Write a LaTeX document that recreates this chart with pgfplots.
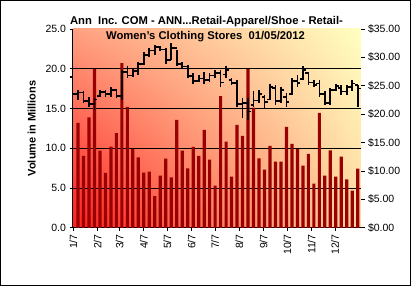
\documentclass[border=0pt]{standalone}
\usepackage{fontspec}
\setmainfont{Liberation Sans}
\usepackage{pgfplots}
\pgfplotsset{compat=1.18}
\usepackage{pgfplotstable}
\usetikzlibrary{shadings}
\definecolor{volred}{RGB}{153,0,0}
\definecolor{bgLL}{RGB}{255,30,30}
\definecolor{bgUL}{RGB}{255,160,128}
\definecolor{bgUR}{RGB}{255,255,192}
\definecolor{bgLR}{RGB}{255,215,160}
\pgfdeclareplotmark{closetick}{\pgfpathmoveto{\pgfpoint{0pt}{0pt}}\pgfpathlineto{\pgfpoint{3pt}{0pt}}\pgfusepathqstroke}
\pgfdeclareplotmark{opentick}{\pgfpathmoveto{\pgfpoint{-3pt}{0pt}}\pgfpathlineto{\pgfpoint{0pt}{0pt}}\pgfusepathqstroke}

\pgfplotstableread{
i V
1 13.2
2 9.06
3 13.9
4 20.0
5 9.7
6 6.9
7 10.2
8 11.9
9 20.7
10 15.2
11 9.9
12 8.85
13 6.94
14 7.06
15 3.98
16 6.56
17 8.69
18 6.35
19 13.56
20 9.69
21 7.48
22 10.19
23 9.06
24 12.31
25 8.56
26 5.31
27 16.56
28 10.85
29 6.44
30 12.94
31 11.56
32 20.0
33 15.1
34 8.73
35 7.31
36 10.31
37 8.31
38 8.31
39 12.69
40 10.56
41 9.9
42 7.81
43 9.31
44 5.56
45 14.44
46 6.56
47 9.73
48 6.44
49 8.94
50 6.1
51 4.69
52 7.44
}\voltable

\pgfplotstableread{
i H L O C
0 26.9 22.8 26.5 23.5
1 24.3 22.5 23.5 23.8
2 24.0 21.9 23.8 22.3
3 23.1 21.3 22.3 21.8
4 22.8 20.8 21.8 22.6
5 24.2 23.1 23.2 23.9
6 24.3 23.1 23.9 23.5
7 24.8 23.1 23.5 24.2
8 24.5 22.8 24.2 23.2
9 27.8 22.5 23.2 27.4
10 28.4 26.3 27.4 26.8
11 28.1 26.6 26.8 27.6
12 29.2 26.9 27.6 28.8
13 31.0 28.7 28.8 30.4
14 31.6 30.1 30.4 31.2
15 32.2 30.4 31.2 31.8
16 32.0 31.1 31.8 31.4
17 31.6 28.9 31.4 29.5
18 32.5 29.5 29.5 31.6
19 31.3 28.4 31.6 28.8
20 29.2 28.1 28.8 28.4
21 28.7 26.3 28.4 26.7
22 27.2 25.4 26.7 25.8
23 26.9 25.7 25.8 26.3
24 27.5 25.4 26.3 26.0
25 27.2 25.7 26.0 26.8
26 27.8 26.3 26.8 27.2
27 27.8 24.8 27.2 25.6
28 28.4 26.3 27.0 27.8
29 26.3 25.1 26.0 25.5
30 26.0 21.3 25.5 21.8
31 22.8 19.3 21.8 22.0
32 22.8 19.0 22.0 20.5
33 24.0 21.3 21.6 22.4
34 24.3 21.9 22.4 23.5
35 23.4 21.0 23.0 22.2
36 25.4 22.5 22.6 24.8
37 25.1 21.6 24.6 22.3
38 24.8 21.9 22.3 24.3
39 23.7 21.3 23.0 22.2
40 26.3 23.4 23.6 25.9
41 26.9 24.8 25.9 25.5
42 28.4 26.0 26.2 27.8
43 27.5 25.1 27.2 25.6
44 26.0 24.8 25.6 25.2
45 26.0 23.1 25.4 23.5
46 24.0 21.6 23.5 22.0
47 24.6 21.6 22.0 24.2
48 25.4 24.0 24.2 25.0
49 25.1 23.4 24.6 24.0
50 25.1 23.4 24.0 24.8
51 26.0 24.0 24.8 25.4
52 25.1 21.3 25.1 24.5
}\pricetable

\begin{document}
\begin{tikzpicture}
\useasboundingbox (0,0) rectangle (413pt,286pt);
\draw[line width=1pt] (0.5pt,0.5pt) rectangle (410.5pt,285.5pt);
\begin{axis}[
  at={(72.5pt,58.2pt)}, anchor=south west,
  scale only axis, width=288pt, height=198.8pt,
  xmin=0, xmax=52.5, ymin=0, ymax=25,
  clip=false,
  axis x line*=bottom, axis y line*=left,
  axis line style={line width=0.8pt, black},
  axis background/.style={shade, lower left=bgLL, upper left=bgUL, upper right=bgUR, lower right=bgLR},
  xtick={0.15,4.58,8.58,13.0,17.29,21.72,26.0,30.44,34.86,39.15,43.58,47.86},
  xticklabels={1/7,2/7,3/7,4/7,5/7,6/7,7/7,8/7,9/7,10/7,11/7,12/7},
  x tick label style={rotate=90, anchor=east, font=\fontsize{10.5}{12}\selectfont},
  ytick={0,5,...,25},
  extra y ticks={5,10,15,20}, extra y tick labels={},
  extra y tick style={grid=major, major tick length=0pt},
  grid style={black, line width=0.8pt},
  yticklabel style={font=\fontsize{10.5}{12}\selectfont, /pgf/number format/.cd, fixed, fixed zerofill, precision=1, assume math mode=true},
  tick align=outside, major tick length=3pt,
  tick style={black, line width=0.8pt},
  ylabel={Volume in Millions},
  ylabel style={font=\fontsize{11}{13}\selectfont\bfseries},
]
\addplot[ybar, bar width=3.2pt, fill=volred, draw=none] table[x=i, y=V] {\voltable};
\end{axis}
\begin{axis}[
  at={(72.5pt,58.2pt)}, anchor=south west,
  scale only axis, width=288pt, height=198.8pt,
  xmin=0, xmax=52.5, ymin=0, ymax=35,
  clip=false,
  axis x line=none, axis y line*=right,
  y axis line style={draw=none},
  ytick={0,5,...,35},
  yticklabel={\$\pgfmathprintnumber[fixed,fixed zerofill,precision=2,assume math mode=true]{\tick}},
  yticklabel style={font=\fontsize{10.5}{12}\selectfont},
  tick align=outside, major tick length=4pt,
  tick style={black, line width=0.8pt},
]
\addplot[black, only marks, mark=closetick, mark options={line width=1.7pt},
  error bars/.cd, y dir=both, y explicit, error mark=none,
  error bar style={line width=1.7pt, black}]
  table[x=i, y=C, y error plus expr=\thisrow{H}-\thisrow{C}, y error minus expr=\thisrow{C}-\thisrow{L}] {\pricetable};
\addplot[black, only marks, mark=opentick, mark options={line width=1.7pt}] table[x=i, y=O] {\pricetable};
\end{axis}
\node[anchor=base, font=\fontsize{11.25}{13}\selectfont\bfseries] at (206.5pt,261pt) {Ann\ \ Inc. COM - ANN...Retail-Apparel/Shoe - Retail-};
\node[anchor=base, font=\fontsize{11.25}{13}\selectfont\bfseries] at (205.5pt,246pt) {Women's Clothing Stores\ \ 01/05/2012};
\end{tikzpicture}
\end{document}
